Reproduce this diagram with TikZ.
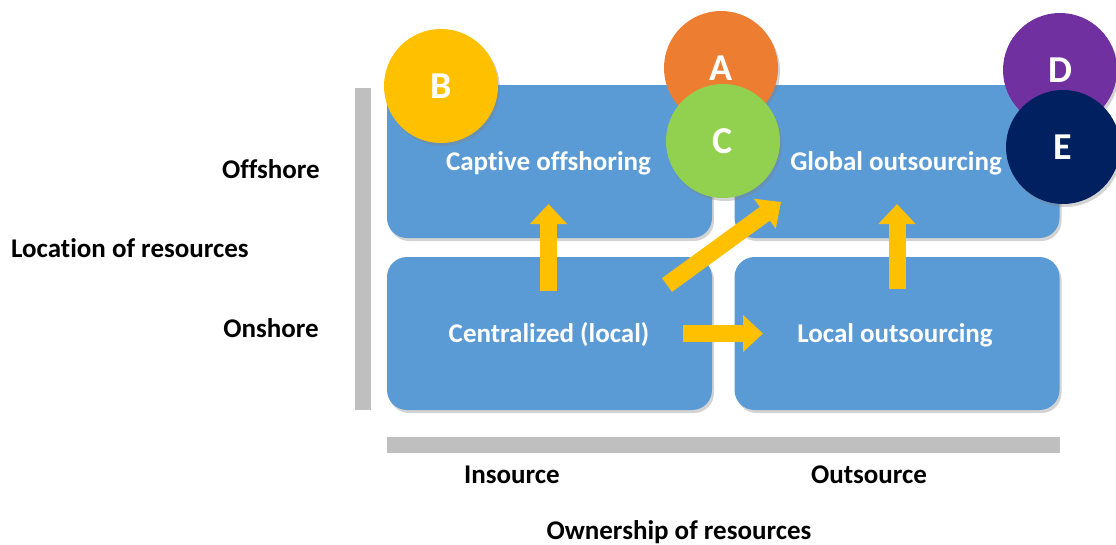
\documentclass[tikz,border=0pt]{standalone}
\usepackage{fontspec}
\setmainfont{Carlito}[Ligatures=NoCommon]
\usetikzlibrary{arrows.meta,shadows}
\definecolor{boxblue}{HTML}{5B9BD5}
\definecolor{corange}{HTML}{ED7D31}
\definecolor{cgreen}{HTML}{92D050}
\definecolor{cpurple}{HTML}{7030A0}
\definecolor{cnavy}{HTML}{002060}
\definecolor{cyellow}{HTML}{FFC000}
\definecolor{bargray}{HTML}{BFBFBF}
\tikzset{
  quad/.style={rectangle, rounded corners=20pt, fill=boxblue, minimum width=325pt, minimum height=153pt,
    inner sep=0pt,
    drop shadow={opacity=0.35, shadow xshift=2pt, shadow yshift=-3pt}},
  quadtext/.style={text=white, font=\fontsize{27}{32}\selectfont\bfseries, inner sep=0pt},
  badge/.style={circle, minimum size=114pt, inner sep=0pt, text=white,
    font=\fontsize{38}{44}\selectfont\bfseries,
    drop shadow={opacity=0.35, shadow xshift=2pt, shadow yshift=-3pt}},
  axlabel/.style={font=\fontsize{27}{32}\selectfont\bfseries, inner sep=0pt, text=black},
  flow/.style={line width=17pt, draw=cyellow, -{Triangle[width=36pt,length=20pt]}},
  bar/.style={fill=bargray, draw=none}
}
\begin{document}
\begin{tikzpicture}[x=1pt,y=-1pt]
\useasboundingbox (0,0) rectangle (1116,544);
% axis bars
\fill[bar] (355,88) rectangle (371,410);
\fill[bar] (387,437) rectangle (1060,453);
% quadrants
\node[quad] (co) at (549.5,161.5) {};
\node[quad] (go) at (897,161.5) {};
\node[quad] (cl) at (549.5,333.5) {};
\node[quad] (lo) at (897,333.5) {};
\node[quadtext] (tco) at (548.5,163) {Captive offshoring};
\node[quadtext] (tgo) at (896,163) {Global outsourcing};
\node[quadtext] (tcl) at (549,335) {Centralized (local)};
\node[quadtext] (tlo) at (895,335) {Local outsourcing};
% arrow anchors
\coordinate (a1s) at (548.5,291);
\coordinate (a1e) at (548.5,204);
\coordinate (a2s) at (897,289);
\coordinate (a2e) at (897,204);
\coordinate (a3s) at (683,333.5);
\coordinate (a3e) at (763,333.5);
\coordinate (a4s) at (667,285);
\coordinate (a4e) at (781,202);
\draw[flow] (a1s) -- (a1e);
\draw[flow] (a2s) -- (a2e);
\draw[flow] (a3s) -- (a3e);
\draw[flow] (a4s) -- (a4e);
% badges
\node[badge, fill=cyellow] (b) at (441,86) {B};
\node[badge, fill=corange] (a) at (721,68) {A};
\node[badge, fill=cgreen] (c) at (723,141) {C};
\node[badge, fill=cpurple] (d) at (1060,70) {D};
\node[badge, fill=cnavy] (e) at (1063,147) {E};
% axis labels
\node[axlabel, anchor=east] (off) at (320,169) {Offshore};
\node[axlabel, anchor=east] (on) at (319,328) {Onshore};
\node[axlabel, anchor=west] (loc) at (11,248) {Location of resources};
\node[axlabel] (ins) at (512,475) {Insource};
\node[axlabel] (outs) at (869,475) {Outsource};
\node[axlabel] (own) at (679,532) {Ownership of resources};
\end{tikzpicture}
\end{document}
